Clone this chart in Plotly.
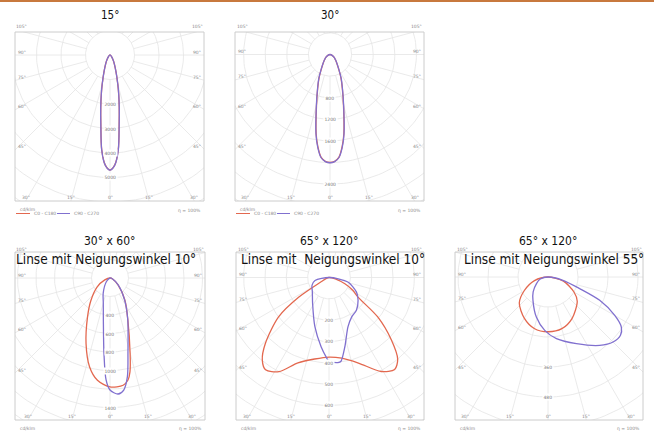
import numpy as np
import plotly.graph_objects as go

W, H = 654, 434

# ---------------- data: gamma in degrees from nadir (left negative), intensity in cd/klm
p1_title = "15°"
p1_subtitle = ""
p1_c0_gamma = [-90, -60, -45, -30, -20, -15, -12.5, -10, -7.5, -5, -2.5, 0, 2.5, 5, 7.5, 10, 12.5, 15, 20, 30, 45, 60, 90]
p1_c0_cd = [0, 30, 80, 286, 694, 1224, 1633, 2163, 2857, 3878, 4490, 4694, 4490, 3878, 2857, 2163, 1633, 1224, 694, 286, 80, 30, 0]
p1_c90_gamma = [-90, -60, -45, -30, -20, -15, -12.5, -10, -7.5, -5, -2.5, 0, 2.5, 5, 7.5, 10, 12.5, 15, 20, 30, 45, 60, 90]
p1_c90_cd = [0, 30, 82, 290, 700, 1235, 1650, 2180, 2870, 3890, 4500, 4700, 4500, 3890, 2870, 2180, 1650, 1235, 700, 290, 82, 30, 0]
p1_step = 1000
p1_rlabels = [2000, 3000, 4000, 5000]

p2_title = "30°"
p2_subtitle = ""
p2_c0_gamma = [-90, -60, -45, -30, -25, -20, -15, -10, -7.5, -5, -2.5, 0, 2.5, 5, 7.5, 10, 15, 20, 25, 30, 45, 60, 90]
p2_c0_cd = [0, 74, 148, 333, 481, 667, 963, 1481, 1722, 1907, 1980, 2000, 1980, 1907, 1722, 1481, 963, 667, 481, 333, 148, 74, 0]
p2_c90_gamma = [-90, -60, -45, -30, -25, -20, -15, -10, -7.5, -5, -2.5, 0, 2.5, 5, 7.5, 10, 15, 20, 25, 30, 45, 60, 90]
p2_c90_cd = [0, 74, 150, 338, 490, 675, 975, 1495, 1735, 1915, 1985, 2005, 1985, 1915, 1735, 1495, 975, 675, 490, 338, 150, 74, 0]
p2_step = 400
p2_rlabels = [800, 1200, 1600, 2400]

p3_title = "30° x 60°"
p3_subtitle = "Linse mit Neigungswinkel 10°"
p3_c0_gamma = [-90, -70, -55, -40, -30, -20, -13, -7, 0, 7, 10, 12, 15, 23, 34, 49, 70, 90]
p3_c0_cd = [0, 60, 171, 324, 486, 757, 984, 1114, 1178, 1168, 1120, 1038, 839, 494, 288, 115, 30, 0]
p3_c90_gamma = [-90, -45, -24, -15, -9, -4.6, -2.2, 0, 4, 7, 10, 13.7, 23.5, 34, 50, 70, 90]
p3_c90_cd = [0, 54, 181, 280, 459, 816, 1103, 1211, 1257, 1220, 1083, 820, 480, 280, 115, 30, 0]
p3_step = 200
p3_rlabels = [400, 600, 800, 1000, 1400]

p4_title = "65° x 120°"
p4_subtitle = "Linse mit\u00a0 Neigungswinkel 10°"
p4_c0_gamma = [-90, -70, -62, -57, -52, -44, -39, -34.5, -28, -20, -10, 0, 9, 19, 29, 35.5, 40, 45, 51, 56, 62, 68.5, 78, 90]
p4_c0_cd = [0, 15, 40, 170, 300, 429, 497, 525, 500, 426, 388, 373, 383, 424, 504, 530, 501, 413, 294, 164, 125, 80, 30, 0]
p4_c90_gamma = [-90, -78, -65, -50, -32, -16, -6.5, -1.6, 0, 6, 8, 12.9, 21, 30, 40, 52, 62, 76, 82, 90]
p4_c90_cd = [0, 67, 88, 102, 145, 240, 327, 378, 394, 401, 398, 333, 248, 213, 200, 173, 146, 93, 44, 0]
p4_step = 100
p4_rlabels = [200, 300, 400, 500, 600]

p5_title = "65° x 120°"
p5_subtitle = "Linse mit Neigungswinkel 55°"
p5_c0_gamma = [-90, -75, -60, -47.8, -30, -15, 0, 15, 30, 50.3, 60, 75, 90]
p5_c0_cd = [0, 56, 110, 155, 190, 213, 219, 214, 192, 152, 120, 64, 0]
p5_c90_gamma = [-90, -75, -60.4, -45, -32.8, -16.2, -3.5, 7.8, 23.1, 37.1, 45, 51.2, 55.7, 60.1, 65.7, 69.9, 77.6, 90]
p5_c90_cd = [0, 32, 53, 84, 111, 167, 214, 249, 290, 343, 368, 372, 355, 308, 227, 135, 61, 0]
p5_step = 120
p5_rlabels = [360, 480]

legend_unit = "cd/klm"
legend_c0 = "C0 - C180"
legend_c90 = "C90 - C270"
legend_eta = "η = 100%"
side_angle_labels = [105, 90, 75, 60, 45]
bottom_angle_labels = [-30, -15, 0, 15, 30]

# ---------------- layout geometry (pixels): box x0,x1,y0,y1, centre cx,cy, px per cd
panels = [
    dict(title=p1_title, sub=p1_subtitle, c0=(p1_c0_gamma, p1_c0_cd), c90=(p1_c90_gamma, p1_c90_cd),
         step=p1_step, rl=p1_rlabels, box=(15, 204, 32, 201), c=(110, 55), k=0.0245, tx=110, ty=15.5, tsz=11.5, sx=110, legend=True),
    dict(title=p2_title, sub=p2_subtitle, c0=(p2_c0_gamma, p2_c0_cd), c90=(p2_c90_gamma, p2_c90_cd),
         step=p2_step, rl=p2_rlabels, box=(235, 424, 32, 201), c=(330, 54.5), k=0.054, tx=330, ty=15.5, tsz=11.5, sx=330, legend=True),
    dict(title=p3_title, sub=p3_subtitle, c0=(p3_c0_gamma, p3_c0_cd), c90=(p3_c90_gamma, p3_c90_cd),
         step=p3_step, rl=p3_rlabels, box=(15, 205, 252, 420), c=(110, 278), k=0.0925, tx=110, ty=241.5, tsz=12, sx=106, legend=False),
    dict(title=p4_title, sub=p4_subtitle, c0=(p4_c0_gamma, p4_c0_cd), c90=(p4_c90_gamma, p4_c90_cd),
         step=p4_step, rl=p4_rlabels, box=(236, 424, 252, 420), c=(329, 277.5), k=0.2133, tx=329, ty=241.5, tsz=12, sx=333, legend=False),
    dict(title=p5_title, sub=p5_subtitle, c0=(p5_c0_gamma, p5_c0_cd), c90=(p5_c90_gamma, p5_c90_cd),
         step=p5_step, rl=p5_rlabels, box=(455, 643, 252, 420), c=(548, 277), k=0.25, tx=548, ty=241.5, tsz=12, sx=554, legend=False),
]

RED = "#e3684f"
PURPLE = "#8070cf"
GRID = "#e4e4e4"
BOX = "#cccccc"
SMALL = "#8a8a8a"
FONT = "DejaVu Sans Condensed, Liberation Sans Narrow, sans-serif"

fig = go.Figure()
annotations = []
shapes = []
layout_axes = {}


def px(x, y):
    return x / W, 1 - y / H


for i, p in enumerate(panels):
    n = i + 1
    xa = "x" if n == 1 else f"x{n}"
    ya = "y" if n == 1 else f"y{n}"
    x0, x1, y0, y1 = p["box"]
    cx, cy = p["c"]
    k = p["k"]
    xr = [-(cx - x0) / k, (x1 - cx) / k]
    yr = [-(y1 - cy) / k, (cy - y0) / k]
    layout_axes["xaxis" if n == 1 else f"xaxis{n}"] = dict(
        domain=[x0 / W, x1 / W], range=xr, visible=False, fixedrange=True, anchor=ya)
    layout_axes["yaxis" if n == 1 else f"yaxis{n}"] = dict(
        domain=[1 - y1 / H, 1 - y0 / H], range=yr, visible=False, fixedrange=True, anchor=xa)

    # polar grid: circles and radial lines
    rmax = np.hypot(max(cx - x0, x1 - cx), max(cy - y0, y1 - cy)) / k
    t = np.linspace(0, 2 * np.pi, 181)
    gx, gy = [], []
    r = p["step"]
    while r <= rmax + p["step"]:
        gx += list(r * np.cos(t)) + [None]
        gy += list(r * np.sin(t)) + [None]
        r += p["step"]
    for a in range(0, 360, 15):
        ar = np.radians(a)
        gx += [p["step"] * np.sin(ar), rmax * 1.5 * np.sin(ar), None]
        gy += [-p["step"] * np.cos(ar), -rmax * 1.5 * np.cos(ar), None]
    fig.add_trace(go.Scatter(x=gx, y=gy, mode="lines", line=dict(color=GRID, width=0.8),
                             hoverinfo="skip", showlegend=False, xaxis=xa, yaxis=ya))

    # curves
    for (gam, cd), col in ((p["c0"], RED), (p["c90"], PURPLE)):
        g = np.radians(np.array(gam, dtype=float))
        I = np.array(cd, dtype=float)
        fig.add_trace(go.Scatter(x=I * np.sin(g), y=-I * np.cos(g), mode="lines",
                                 line=dict(color=col, width=1.3, shape="spline", smoothing=0.8),
                                 hoverinfo="skip", showlegend=False, xaxis=xa, yaxis=ya))

    # box
    shapes.append(dict(type="rect", xref="paper", yref="paper",
                       x0=x0 / W, x1=x1 / W, y0=1 - y1 / H, y1=1 - y0 / H,
                       line=dict(color=BOX, width=1), fillcolor="rgba(0,0,0,0)", layer="above"))

    # radius labels
    for v in p["rl"]:
        lx, ly = px(cx, cy + v * k)
        annotations.append(dict(x=lx, y=ly, xref="paper", yref="paper", text=str(v), showarrow=False,
                                font=dict(size=4.5, color="#777777", family="DejaVu Sans"),
                                bgcolor="white", borderpad=0.5, xanchor="center", yanchor="middle"))

    # angle labels on sides
    half = cx - x0
    for a in side_angle_labels:
        dy = half / np.tan(np.radians(a))
        for side in (-1, 1):
            xx = x0 + 7 if side < 0 else x1 - 7
            lx, ly = px(xx, cy + dy - 3)
            annotations.append(dict(x=lx, y=ly, xref="paper", yref="paper", text=f"{a}°", showarrow=False,
                                    font=dict(size=4.5, color=SMALL, family="DejaVu Sans"),
                                    xanchor="center", yanchor="middle"))
    for a in bottom_angle_labels:
        dx = (y1 - cy) * np.tan(np.radians(a))
        xx = min(max(cx + dx, x0 + 6), x1 - 6)
        lx, ly = px(xx, y1 - 4)
        annotations.append(dict(x=lx, y=ly, xref="paper", yref="paper", text=f"{abs(a)}°", showarrow=False,
                                font=dict(size=4.5, color=SMALL, family="DejaVu Sans"),
                                xanchor="center", yanchor="middle"))

    # titles
    tx, ty = px(p["tx"], p["ty"])
    annotations.append(dict(x=tx, y=ty, xref="paper", yref="paper", text=p["title"], showarrow=False,
                            font=dict(size=p["tsz"], color="#111111", family=FONT),
                            xanchor="center", yanchor="middle"))
    if p["sub"]:
        sx, sy = px(p["sx"], 259)
        annotations.append(dict(x=sx, y=sy, xref="paper", yref="paper", text=p["sub"], showarrow=False,
                                font=dict(size=13.5, color="#111111", family=FONT),
                                xanchor="center", yanchor="middle"))

    # legend / footer
    if p["legend"]:
        lx, ly = px(x0 + 3, 209)
        annotations.append(dict(x=lx, y=ly, xref="paper", yref="paper", text=legend_unit, showarrow=False,
                                font=dict(size=4.5, color=SMALL, family="DejaVu Sans"), xanchor="left", yanchor="middle"))
        for (lx0, lx1, col, txt) in ((x0 + 1, x0 + 15, RED, legend_c0), (x0 + 42, x0 + 55, PURPLE, legend_c90)):
            a0, b0 = px(lx0, 213.5)
            a1, _ = px(lx1, 213.5)
            shapes.append(dict(type="line", xref="paper", yref="paper", x0=a0, x1=a1, y0=b0, y1=b0,
                               line=dict(color=col, width=1)))
            tx2, ty2 = px(lx1 + 2, 213.5)
            annotations.append(dict(x=tx2, y=ty2, xref="paper", yref="paper", text=txt, showarrow=False,
                                    font=dict(size=4.5, color=SMALL, family="DejaVu Sans"), xanchor="left", yanchor="middle"))
        ex, ey = px(x1 - 1, 211)
    else:
        lx, ly = px(x0 + 3, 428.5)
        annotations.append(dict(x=lx, y=ly, xref="paper", yref="paper", text=legend_unit, showarrow=False,
                                font=dict(size=4.5, color=SMALL, family="DejaVu Sans"), xanchor="left", yanchor="middle"))
        ex, ey = px(x1 - 1, 428.5)
    annotations.append(dict(x=ex, y=ey, xref="paper", yref="paper", text=legend_eta, showarrow=False,
                            font=dict(size=4.5, color=SMALL, family="DejaVu Sans"), xanchor="right", yanchor="middle"))

# orange rule at the very top
shapes.append(dict(type="line", xref="paper", yref="paper", x0=0, x1=1, y0=1 - 1 / H, y1=1 - 1 / H,
                   line=dict(color="#c8793e", width=2)))

fig.update_layout(width=W, height=H, margin=dict(l=0, r=0, t=0, b=0),
                  paper_bgcolor="white", plot_bgcolor="white",
                  annotations=annotations, shapes=shapes, showlegend=False, **layout_axes)

fig.write_html("out.html", config={"displayModeBar": False},
               post_script="document.body.style.margin='0px';document.body.style.overflow='hidden';")
